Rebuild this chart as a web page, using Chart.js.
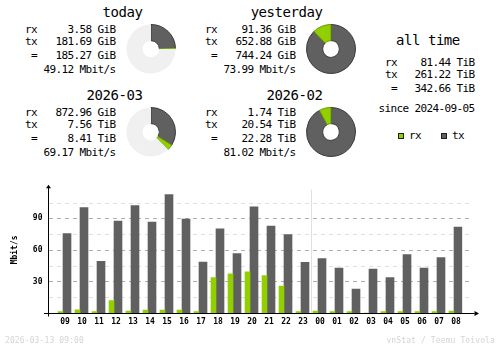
<!DOCTYPE html>
<html><head><meta charset="utf-8">
<script src="https://cdn.jsdelivr.net/npm/chart.js@4.4.1/dist/chart.umd.min.js"></script>
<style>
html,body{margin:0;padding:0;background:#fff;}
#wrap{position:relative;width:500px;height:348px;overflow:hidden;background:#fff;}
.t{position:absolute;white-space:pre;font-family:'DejaVu Sans Mono',monospace;color:#000;}
canvas{position:absolute;}
.sq{position:absolute;width:4px;height:4px;border:1px solid #202020;}
</style></head><body><div id="wrap">
<canvas id="bars" width="500" height="178" style="left:0;top:170px;width:500px;height:178px"></canvas>
</div>
<script>
// ---- summary data ----
const blockTitles = ['today', 'yesterday', '2026-03', '2026-02'];
const rxLabels = ['3.58 GiB', '91.36 GiB', '872.96 GiB', '1.74 TiB'];
const txLabels = ['181.69 GiB', '652.88 GiB', '7.56 TiB', '20.54 TiB'];
const totalLabels = ['185.27 GiB', '744.24 GiB', '8.41 TiB', '22.28 TiB'];
const rateLabels = ['49.12 Mbit/s', '73.99 Mbit/s', '69.17 Mbit/s', '81.02 Mbit/s'];
// pie values in GiB
const pieRx = [3.58, 91.36, 872.96, 1781.76];
const pieTx = [181.69, 652.88, 7741.44, 21032.96];
const pieCompare = [744.24, null, 22814.72, null];

const allTimeTitle = 'all time';
const allTimeRx = '81.44 TiB';
const allTimeTx = '261.22 TiB';
const allTimeTotal = '342.66 TiB';
const sinceLabel = 'since 2024-09-05';
const legendLabels = ['rx', 'tx'];

// ---- hourly bar data (Mbit/s) ----
const hours = ['09','10','11','12','13','14','15','16','17','18','19','20','21','22','23','00','01','02','03','04','05','06','07','08'];
const rxRate = [1.3, 3.0, 1.3, 11.8, 1.8, 2.7, 2.7, 2.7, 1.3, 33.6, 37.3, 39.1, 35.5, 25.5, 1.3, 1.8, 1.3, 1.3, 0, 1.3, 1.3, 1.3, 1.3, 1.8];
const txRate = [75.5, 100.3, 49.1, 87.3, 102.1, 86.4, 112.7, 89.4, 48.5, 80.0, 56.4, 100.9, 82.7, 74.5, 48.2, 51.8, 42.7, 22.7, 41.8, 33.6, 55.5, 42.7, 52.7, 81.8];
const yTickLabels = [30, 60, 90];
const yAxisTitle = 'Mbit/s';
const footerLeft = '2026-03-13 09:00';
const footerRight = 'vnStat / Teemu Toivola';

const RX = '#92cf00', TX = '#606060', REST = '#f0f0f0';
const FONT = "'DejaVu Sans Mono', monospace";
const wrap = document.getElementById('wrap');

function put(text, x, base, size, align, ls, color, weight) {
  const d = document.createElement('div');
  d.className = 't';
  d.textContent = text;
  d.style.fontSize = size + 'px';
  d.style.lineHeight = size + 'px';
  d.style.letterSpacing = ls + 'px';
  d.style.top = (base - 0.846 * size) + 'px';
  if (color) d.style.color = color;
  if (weight) d.style.fontWeight = weight;
  if (align === 'right') { d.style.right = (500 - x + (ls < 0 ? ls : 0)) + 'px'; d.style.textAlign = 'right'; }
  else d.style.left = x + 'px';
  wrap.appendChild(d);
}

const S = 11, SL = -0.62, T = 14, TL = -0.45;
for (let i = 0; i < 4; i++) {
  const dx = (i % 2) * 180, dy = Math.floor(i / 2) * 83;
  put(blockTitles[i], 142 + dx, 17 + dy, T, 'right', TL);
  put('rx', 25 + dx, 33 + dy, S, 'left', SL);
  put(rxLabels[i], 115 + dx, 33 + dy, S, 'right', SL);
  put('tx', 25 + dx, 45.5 + dy, S, 'left', SL);
  put(txLabels[i], 115 + dx, 45.5 + dy, S, 'right', SL);
  put('=', 31 + dx, 59.5 + dy, S, 'left', SL);
  put(totalLabels[i], 115 + dx, 59.5 + dy, S, 'right', SL);
  put(rateLabels[i], 115 + dx, 73.5 + dy, S, 'right', SL);

  const c = document.createElement('canvas');
  c.width = 50; c.height = 50;
  c.style.left = (126 + dx) + 'px'; c.style.top = (24 + dy) + 'px';
  c.style.width = '50px'; c.style.height = '50px';
  wrap.appendChild(c);
  const used = pieRx[i] + pieTx[i];
  const rest = pieCompare[i] ? Math.max(pieCompare[i] - used, 0) : 0;
  new Chart(c, {
    type: 'doughnut',
    data: { labels: ['tx', 'rx', ''], datasets: [{
      data: [pieTx[i], pieRx[i], rest],
      backgroundColor: [TX, RX, REST],
      borderColor: ['#3a3a3a', '#6a9800', REST],
      borderWidth: [1, 1, 0]
    }]},
    options: { responsive: false, animation: false, devicePixelRatio: 1, cutout: '34%',
      plugins: { legend: { display: false }, tooltip: { enabled: false } } }
  });
}

// all time block
put(allTimeTitle, 396, 44.5, T, 'left', TL);
put('rx', 385, 66, S, 'left', SL);
put(allTimeRx, 474, 66, S, 'right', SL);
put('tx', 385, 78, S, 'left', SL);
put(allTimeTx, 474, 78, S, 'right', SL);
put('=', 391, 92, S, 'left', SL);
put(allTimeTotal, 474, 92, S, 'right', SL);
put(sinceLabel, 474, 112, S, 'right', SL);
// legend
[[398, RX, legendLabels[0], 409], [441, TX, legendLabels[1], 452]].forEach(([sx, col, lab, tx]) => {
  const q = document.createElement('div');
  q.className = 'sq'; q.style.left = sx + 'px'; q.style.top = '133px'; q.style.background = col;
  wrap.appendChild(q);
  put(lab, tx, 139.5, S, 'left', SL);
});

// footer
put(footerLeft, 5, 343.5, 8, 'left', 0.12, '#d4d4d4');
put(footerRight, 495, 343.5, 8, 'right', 0.12, '#d4d4d4');

// ---- bar chart ----
const vnAxes = {
  id: 'vnAxes',
  beforeDatasetsDraw(chart) {
    const { ctx, chartArea: a, scales: { x, y } } = chart;
    ctx.save();
    ctx.lineWidth = 1;
    ctx.setLineDash([4, 4]);
    const gl = a.left - 5.5, gr = x.right + 10.5;
    y.ticks.forEach(t => {
      if (t.value <= 0 || t.value >= y.max) return;
      const py = Math.round(y.getPixelForValue(t.value)) + 0.5;
      ctx.strokeStyle = yTickLabels.includes(t.value) ? '#b0b0b0' : '#e0e0e0';
      ctx.beginPath(); ctx.moveTo(gl, py); ctx.lineTo(gr, py); ctx.stroke();
    });
    ctx.setLineDash([]);
    const i = hours.indexOf('00');
    const sx = Math.floor((x.getPixelForValue(i - 1) + x.getPixelForValue(i)) / 2 + 2) + 0.5;
    ctx.strokeStyle = '#e0e0e0';
    ctx.beginPath(); ctx.moveTo(sx, a.top + 3); ctx.lineTo(sx, a.bottom); ctx.stroke();
    ctx.restore();
  },
  afterDatasetsDraw(chart) {
    const { ctx, chartArea: a, scales: { x } } = chart;
    ctx.save();
    ctx.strokeStyle = '#000'; ctx.fillStyle = '#000'; ctx.lineWidth = 1;
    const ax = a.left - 6, ay = a.bottom + 0.5;
    ctx.beginPath(); ctx.moveTo(a.left - 10.5, ay); ctx.lineTo(x.right + 12, ay); ctx.stroke();
    ctx.beginPath(); ctx.moveTo(ax, a.bottom + 3.5); ctx.lineTo(ax, a.top + 1); ctx.stroke();
    ctx.beginPath(); ctx.moveTo(x.right + 16.5, ay); ctx.lineTo(x.right + 12, ay - 2.5); ctx.lineTo(x.right + 12, ay + 2.5); ctx.closePath(); ctx.fill();
    ctx.beginPath(); ctx.moveTo(ax, a.top - 2); ctx.lineTo(ax - 2.5, a.top + 1.5); ctx.lineTo(ax + 2.5, a.top + 1.5); ctx.closePath(); ctx.fill();
    ctx.restore();
  }
};

const small = { family: FONT, size: 8, weight: 'bold' };
new Chart(document.getElementById('bars'), {
  type: 'bar',
  data: { labels: hours, datasets: [
    { label: 'rx', data: rxRate, backgroundColor: RX, barThickness: 5, borderWidth: 0 },
    { label: 'tx', data: txRate, backgroundColor: TX, barThickness: 8, borderWidth: 0 }
  ]},
  options: {
    responsive: false, animation: false, devicePixelRatio: 1,
    layout: { padding: { left: 0, right: 37.5, top: 11, bottom: 15 } },
    plugins: { legend: { display: false }, tooltip: { enabled: false } },
    scales: {
      x: {
        offset: true,
        grid: { display: false, drawTicks: false }, border: { display: false },
        ticks: { font: small, color: '#000', padding: 4, labelOffset: 2, maxRotation: 0, autoSkip: false },
        afterFit: s => { s.height = 20; }
      },
      y: {
        min: 0, max: 120,
        grid: { display: false, drawTicks: false }, border: { display: false },
        ticks: { stepSize: 15, font: small, color: '#000', padding: 12,
          callback: v => yTickLabels.includes(v) ? String(v) : '' },
        title: { display: true, text: yAxisTitle, color: '#000', font: small, padding: { top: 9.7, bottom: 0 } },
        afterFit: s => { s.width = 54.5; }
      }
    }
  },
  plugins: [vnAxes]
});
</script>
</body></html>
